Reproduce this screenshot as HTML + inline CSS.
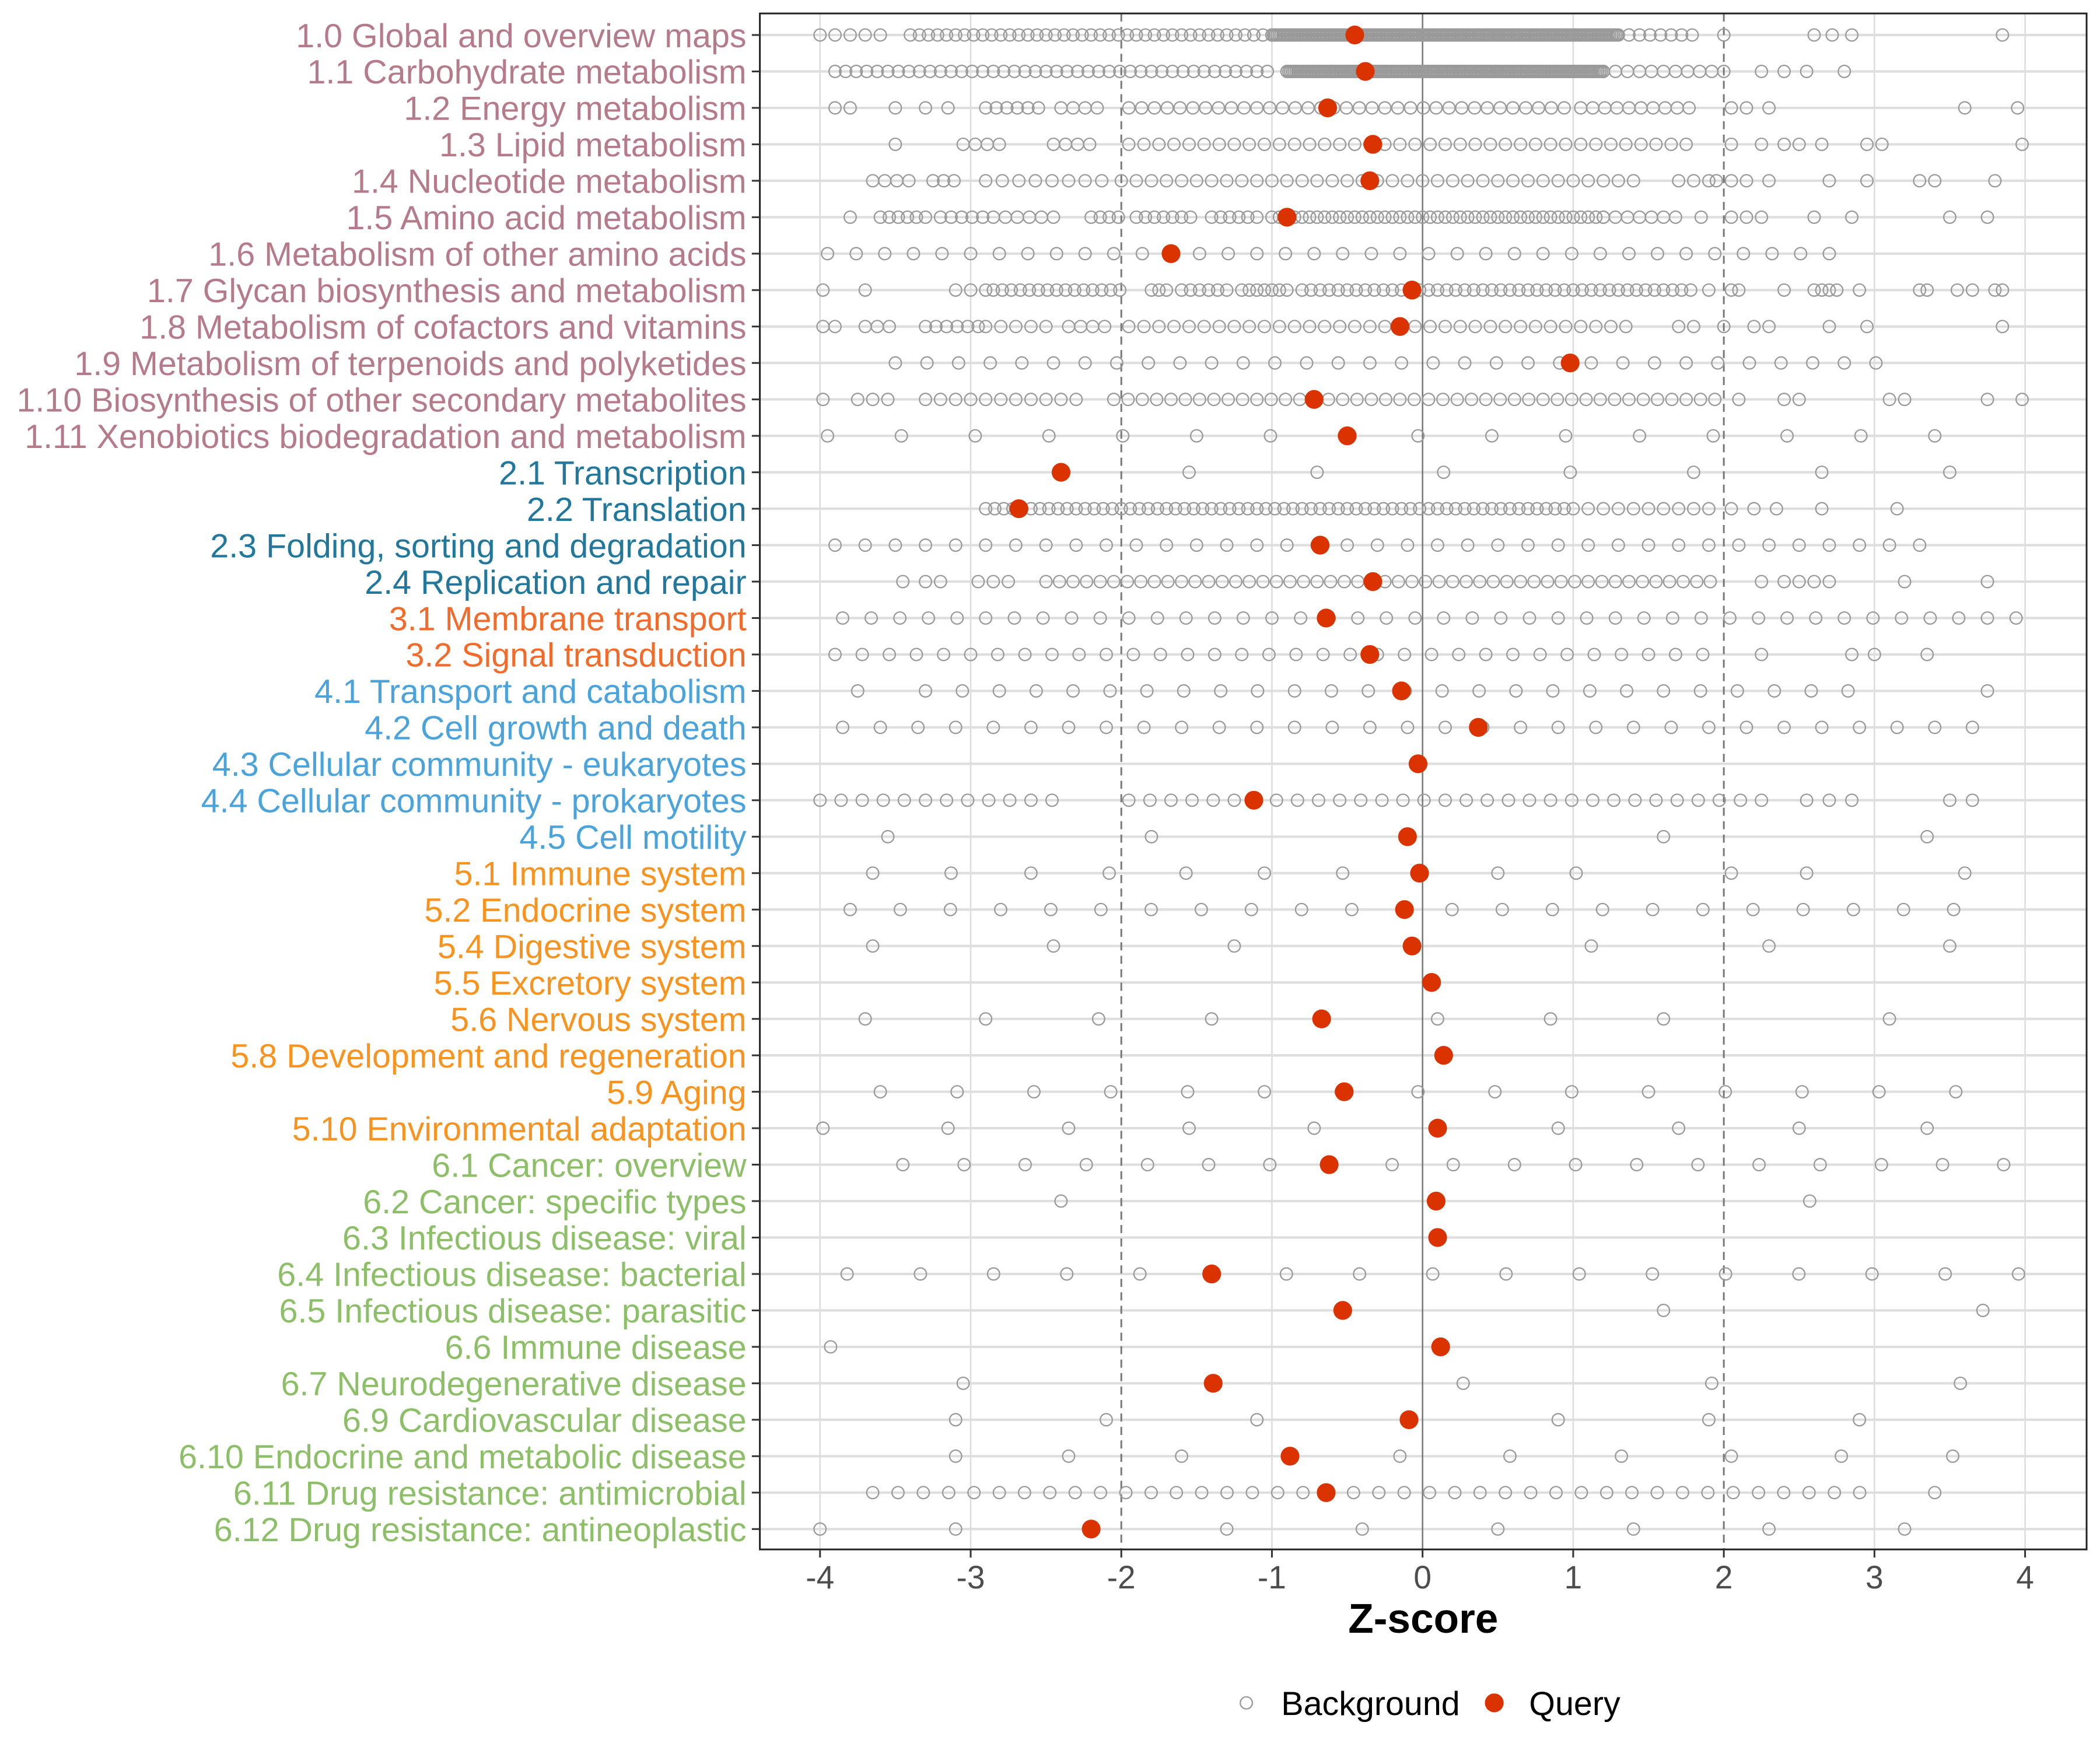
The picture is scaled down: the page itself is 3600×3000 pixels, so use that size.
<!DOCTYPE html>
<html><head><meta charset="utf-8"><style>
html,body{margin:0;padding:0;background:#fff;}
svg{display:block;}
text{font-family:"Liberation Sans",Arial,sans-serif;}
</style></head><body>
<svg id="s" width="3600" height="3000" viewBox="0 0 1567 1300" preserveAspectRatio="none" xmlns="http://www.w3.org/2000/svg">
<rect x="0" y="0" width="1567" height="1300" fill="#fff"/>
<g id="grid"></g>
<g id="pts"></g>
<rect x="567" y="10" width="990" height="1141" fill="none" stroke="#222" stroke-width="1.3"/>
<g id="labels"></g>
<g id="xt"></g>
<text x="1062" y="1213" font-size="31" font-weight="bold" text-anchor="middle">Z-score</text>
<circle cx="930" cy="1265" r="4.5" fill="none" stroke="#999" stroke-width="1"/>
<text x="956" y="1274" font-size="25">Background</text>
<circle cx="1115" cy="1265" r="7" fill="#DB3300"/>
<text x="1141" y="1274" font-size="25">Query</text>
</svg>
<script>
var NS="http://www.w3.org/2000/svg";
function el(p,t,a,txt){var e=document.createElementNS(NS,t);for(var k in a)e.setAttribute(k,a[k]);if(txt!=null)e.textContent=txt;document.getElementById(p).appendChild(e);return e;}
function X(z){return 1061.5+112.4*z;}
var C1="#B57B8A",C2="#21789C",C3="#F26B2A",C4="#4AA3DA",C5="#F7931E",C6="#8DBF68";
var R=[
["1.0 Global and overview maps",C1,-0.45,[[-4,-3.6,0.1],[-3.4,-1.0,0.06],[-1,1.3,0.012],[1.3,1.85,0.07],2.0,2.6,2.72,2.85,3.85]],
["1.1 Carbohydrate metabolism",C1,-0.38,[[-3.9,-1.0,0.07],[-0.9,1.2,0.012],[1.2,2.0,0.08],2.25,2.4,2.55,2.8]],
["1.2 Energy metabolism",C1,-0.63,[-3.9,-3.8,-3.5,-3.3,-3.15,[-2.9,-2.5,0.07],[-2.4,-2.1,0.08],[-1.95,1.0,0.085],[1.05,1.8,0.08],2.05,2.15,2.3,3.6,3.95]],
["1.3 Lipid metabolism",C1,-0.33,[-3.5,[-3.05,-2.75,0.08],[-2.45,-2.15,0.08],[-1.95,1.8,0.1],2.05,2.25,2.4,2.5,2.65,2.95,3.05,3.98]],
["1.4 Nucleotide metabolism",C1,-0.35,[[-3.65,-3.4,0.08],[-3.25,-3.05,0.07],[-2.9,-2.1,0.11],[-2.0,1.4,0.1],1.7,1.8,1.9,1.95,2.05,2.15,2.3,2.7,2.95,3.3,3.4,3.8]],
["1.5 Amino acid metabolism",C1,-0.9,[-3.8,[-3.6,-3.3,0.06],[-3.2,-2.9,0.07],[-2.85,-2.45,0.08],[-2.2,-2.0,0.06],[-1.9,-1.5,0.06],[-1.4,-1.1,0.06],[-1.0,1.2,0.05],[1.2,1.7,0.08],1.85,2.05,2.15,2.25,2.6,2.85,3.5,3.75]],
["1.6 Metabolism of other amino acids",C1,-1.67,[[-3.95,2.75,0.19]]],
["1.7 Glycan biosynthesis and metabolism",C1,-0.07,[-3.98,-3.7,[-3.1,-2.9,0.1],[-2.85,-2.0,0.06],[-1.8,-1.7,0.05],[-1.6,-1.3,0.06],[-1.2,-0.9,0.05],[-0.8,1.8,0.06],1.9,2.05,2.1,2.4,2.6,2.65,2.7,2.75,2.9,3.3,3.35,3.55,3.65,3.8,3.85]],
["1.8 Metabolism of cofactors and vitamins",C1,-0.15,[-3.98,-3.9,[-3.7,-3.5,0.08],[-3.3,-2.95,0.07],[-2.9,-2.5,0.1],[-2.35,-2.05,0.08],[-1.95,1.4,0.1],1.7,1.8,2.0,2.2,2.3,2.7,2.95,3.85]],
["1.9 Metabolism of terpenoids and polyketides",C1,0.98,[[-3.5,3.1,0.21]]],
["1.10 Biosynthesis of other secondary metabolites",C1,-0.72,[-3.98,-3.75,-3.65,-3.55,[-3.3,-2.3,0.1],[-2.05,1.95,0.095],2.1,2.4,2.5,3.1,3.2,3.75,3.98]],
["1.11 Xenobiotics biodegradation and metabolism",C1,-0.5,[[-3.95,3.45,0.49]]],
["2.1 Transcription",C2,-2.4,[-1.55,-0.7,0.14,0.98,1.8,2.65,3.5]],
["2.2 Translation",C2,-2.68,[[-2.9,1.0,0.06],[1.1,1.9,0.1],2.05,2.2,2.35,2.65,3.15]],
["2.3 Folding, sorting and degradation",C2,-0.68,[[-3.9,3.3,0.2]]],
["2.4 Replication and repair",C2,-0.33,[-3.45,-3.3,-3.2,-2.95,-2.85,-2.75,[-2.5,1.95,0.09],2.25,2.4,2.5,2.6,2.7,3.2,3.75]],
["3.1 Membrane transport",C3,-0.64,[[-3.85,3.98,0.19]]],
["3.2 Signal transduction",C3,-0.35,[[-3.9,1.95,0.18],2.25,2.85,3.0,3.35]],
["4.1 Transport and catabolism",C4,-0.14,[-3.75,[-3.3,3.0,0.245],3.75]],
["4.2 Cell growth and death",C4,0.37,[[-3.85,3.85,0.25]]],
["4.3 Cellular community - eukaryotes",C4,-0.03,[]],
["4.4 Cellular community - prokaryotes",C4,-1.12,[[-4,-2.35,0.14],[-1.95,2.3,0.14],2.55,2.7,2.85,3.5,3.65]],
["4.5 Cell motility",C4,-0.1,[-3.55,-1.8,1.6,3.35]],
["5.1 Immune system",C5,-0.02,[-3.65,-3.13,-2.6,-2.08,-1.57,-1.05,-0.53,0.5,1.02,2.05,2.55,3.6]],
["5.2 Endocrine system",C5,-0.12,[[-3.8,3.56,0.333]]],
["5.4 Digestive system",C5,-0.07,[-3.65,-2.45,-1.25,1.12,2.3,3.5]],
["5.5 Excretory system",C5,0.06,[]],
["5.6 Nervous system",C5,-0.67,[-3.7,-2.9,-2.15,-1.4,0.1,0.85,1.6,3.1]],
["5.8 Development and regeneration",C5,0.14,[]],
["5.9 Aging",C5,-0.52,[[-3.6,3.56,0.51]]],
["5.10 Environmental adaptation",C5,0.1,[-3.98,-3.15,-2.35,-1.55,-0.72,0.9,1.7,2.5,3.35]],
["6.1 Cancer: overview",C6,-0.62,[[-3.45,3.86,0.406]]],
["6.2 Cancer: specific types",C6,0.09,[-2.4,2.57]],
["6.3 Infectious disease: viral",C6,0.1,[]],
["6.4 Infectious disease: bacterial",C6,-1.4,[[-3.82,3.96,0.486]]],
["6.5 Infectious disease: parasitic",C6,-0.53,[1.6,3.72]],
["6.6 Immune disease",C6,0.12,[-3.93]],
["6.7 Neurodegenerative disease",C6,-1.39,[-3.05,0.27,1.92,3.57]],
["6.9 Cardiovascular disease",C6,-0.09,[-3.1,-2.1,-1.1,0.9,1.9,2.9]],
["6.10 Endocrine and metabolic disease",C6,-0.88,[-3.1,-2.35,-1.6,-0.15,0.58,1.32,2.05,2.78,3.52]],
["6.11 Drug resistance: antimicrobial",C6,-0.64,[[-3.65,3.06,0.168],3.4]],
["6.12 Drug resistance: antineoplastic",C6,-2.2,[-4,-3.1,-1.3,-0.4,0.5,1.4,2.3,3.2]]
];
function Y(i){return 26+i*27.07;}
for(var z=-4;z<=4;z++){if(z==0||z==2||z==-2)continue;el("grid","line",{x1:X(z),x2:X(z),y1:10,y2:1151,stroke:"#dcdcdc","stroke-width":1.1});}
R.forEach(function(r,i){el("grid","line",{x1:567,x2:1557,y1:Y(i),y2:Y(i),stroke:"#dedede","stroke-width":1.8});});
el("grid","line",{x1:X(0),x2:X(0),y1:10,y2:1151,stroke:"#777","stroke-width":1.1});
[-2,2].forEach(function(z){el("grid","line",{x1:X(z),x2:X(z),y1:10,y2:1151,stroke:"#777","stroke-width":1.3,"stroke-dasharray":"6,4"});});
R.forEach(function(r,i){
 var y=Y(i);
 r[3].forEach(function(s){
  var vals=[];
  if(typeof s=="number")vals=[s];else{for(var v=s[0];v<=s[1]+1e-9;v+=s[2])vals.push(v);}
  vals.forEach(function(v){el("pts","circle",{cx:X(v).toFixed(1),cy:y,r:4.5,fill:"none",stroke:"#9a9a9a","stroke-width":1});});
 });
 el("pts","circle",{cx:X(r[2]),cy:y,r:7,fill:"#DB3300"});
 el("labels","text",{x:557,y:y+9,"font-size":25,"text-anchor":"end",fill:r[1]},r[0]);
 el("labels","line",{x1:561,x2:567,y1:y,y2:y,stroke:"#333","stroke-width":1.3});
});
for(var z=-4;z<=4;z++){
 el("xt","line",{x1:X(z),x2:X(z),y1:1151,y2:1157,stroke:"#333","stroke-width":1.3});
 el("xt","text",{x:X(z),y:1180,"font-size":24,"text-anchor":"middle",fill:"#4d4d4d"},String(z));
}
</script>
</body></html>
